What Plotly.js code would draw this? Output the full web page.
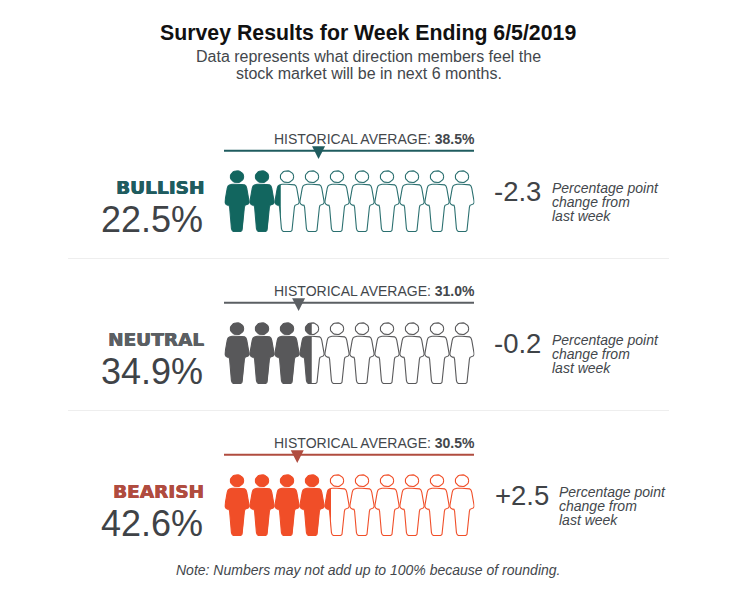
<!DOCTYPE html>
<html>
<head>
<meta charset="utf-8">
<script src="https://cdn.plot.ly/plotly-3.0.1.min.js"></script>
<style>html,body{margin:0;padding:0;background:#fff}</style>
</head>
<body>
<div id="chart" style="width:732px;height:593px"></div>
<script>
// values
const categories = ['BULLISH', 'NEUTRAL', 'BEARISH'];
const current = [22.5, 34.9, 42.6];
const historical = [38.5, 31.0, 30.5];
const changes = ['-2.3', '-0.2', '+2.5'];
const figures = [0, 10, 20, 30, 40, 50, 60, 70, 80, 90];

// styles per row
const labelColors = ['#1f5c5f', '#5b5f63', '#b04c3f'];
const figureColors = ['#12665f', '#58585a', '#f04e28'];
const outlineColors = ['#2a6f6f', '#58585a', '#f04e28'];
const changeTextX = [552, 552, 559];
const changeNumX = [541, 541, 549];

const W = 732, H = 593;
const PLOT_L = 224.5, PLOT_R = 474.5;
const ROW = 152;
const PX = 100 / (PLOT_R - PLOT_L); // percent per pixel

// marker axis, the triangles sit on a slightly different scale than the figures
const MARK_RANGE = [3.16, 97.1];
const MARK_PX = (MARK_RANGE[1] - MARK_RANGE[0]) / (PLOT_R - PLOT_L);

// half a figure, in pixels from its centre and the top of the torso
const halfBody = [[0,0],[5,0],[7.6,0.6],[9,1.8],[9.8,4],[12,16.5],[12.1,18.2],[11.4,19.6],[9.6,20.8],[8,21],
	[7.4,23],[5.6,44],[5,46],[3.8,47.2],[0,47.4]];

function bodyPoly() {
	let right = halfBody.slice();
	let left = halfBody.slice().reverse().map(p => [-p[0], p[1]]);
	return right.concat(left.slice(1, -1));
}

function headPoly() {
	let pts = [];
	for (let a = 0; a < 32; a++) {
		let t = a / 32 * 2 * Math.PI;
		pts.push([6.7 * Math.cos(t), -7.6 + 5.9 * Math.sin(t)]);
	}
	return pts;
}

// cuts a polygon at x=cut and keeps the left side
function clipLeft(poly, cut) {
	let out = [];
	for (let i = 0; i < poly.length; i++) {
		let a = poly[i], b = poly[(i + 1) % poly.length];
		if (a[0] <= cut) out.push(a);
		if ((a[0] <= cut) != (b[0] <= cut)) {
			let k = (cut - a[0]) / (b[0] - a[0]);
			out.push([cut, a[1] + k * (b[1] - a[1])]);
		}
	}
	return out;
}

function addPoly(xs, ys, poly, start, top) {
	if (poly.length < 3) return;
	poly.concat([poly[0]]).forEach(p => {
		xs.push(start + 5 + p[0] * PX);
		ys.push(top + p[1]);
	});
	xs.push(null);
	ys.push(null);
}

const traces = [];
const shapes = [];
const annotations = [];

function text(str, x, y, size, color, anchor, extra) {
	annotations.push(Object.assign({
		text: str, xref: 'paper', yref: 'y', x: x / W, y: y,
		xanchor: anchor, yanchor: 'middle', showarrow: false,
		font: {family: 'Liberation Sans, Arial, sans-serif', size: size, color: color},
		borderpad: 0, borderwidth: 0
	}, extra || {}));
}

categories.forEach((cat, r) => {
	let dy = r * ROW;
	let top = 184.3 + dy;

	// figures, outline for all and the filled part up to the current value
	let fx = [], fy = [], ox = [], oy = [];
	figures.forEach(start => {
		[bodyPoly(), headPoly()].forEach(poly => {
			addPoly(ox, oy, poly, start, top);
			let cut = (current[r] - (start + 5)) / PX;
			addPoly(fx, fy, clipLeft(poly, cut), start, top);
		});
	});
	traces.push({x: ox, y: oy, mode: 'lines', line: {color: outlineColors[r], width: 1.1}, xaxis: 'x', yaxis: 'y', hoverinfo: 'skip'});
	traces.push({x: fx, y: fy, mode: 'none', fill: 'toself', fillcolor: figureColors[r], xaxis: 'x', yaxis: 'y', hoverinfo: 'skip'});

	// historical average rule and triangle
	shapes.push({type: 'line', layer: 'below', xref: 'paper', yref: 'y', x0: 224 / W, x1: 474 / W, y0: 150.8 + dy, y1: 150.8 + dy,
		line: {color: labelColors[r], width: 2}});
	let h = historical[r];
	traces.push({
		x: [h - 6.5 * MARK_PX, h + 6.5 * MARK_PX, h, h - 6.5 * MARK_PX],
		y: [146.2 + dy, 146.2 + dy, 159 + dy, 146.2 + dy],
		mode: 'none', fill: 'toself', fillcolor: labelColors[r], xaxis: 'x2', yaxis: 'y', hoverinfo: 'skip'
	});

	text('HISTORICAL AVERAGE: <b>' + h.toFixed(1) + '%</b>', 474.5, 138.8 + dy, 14, '#43474c', 'right');
	text('<b>' + cat + '</b>', 203.5, 187.5 + dy, 18.5, labelColors[r], 'right', {font: {
		family: 'DejaVu Sans, sans-serif', size: 18.5, color: labelColors[r],
		shadow: '0.5px 0 0 ' + labelColors[r] + ', -0.3px 0 0 ' + labelColors[r]
	}});
	text(current[r].toFixed(1) + '%', 203, 219 + dy, 36, '#3f4347', 'right');
	text(changes[r], changeNumX[r], 191 + dy, 27.5, '#3f4347', 'right');
	['Percentage point', 'change from', 'last week'].forEach((line, i) => {
		text('<i>' + line + '</i>', changeTextX[r], 187.5 + dy + i * 14, 14, '#43474c', 'left');
	});
});

// separators between the rows
[258.5, 410.5].forEach(y => {
	shapes.push({type: 'line', layer: 'below', xref: 'paper', yref: 'y', x0: 68 / W, x1: 669 / W, y0: y, y1: y, line: {color: '#eeeeee', width: 1}});
});

text('<b>Survey Results for Week Ending 6/5/2019</b>', 368, 33, 21.3, '#111111', 'center');
text('Data represents what direction members feel the', 368.5, 56.3, 16, '#43474c', 'center');
text('stock market will be in next 6 months.', 368.5, 73.5, 16, '#43474c', 'center');
text('<i>Note: Numbers may not add up to 100% because of rounding.</i>', 368, 570, 14, '#43474c', 'center');

const layout = {
	width: W, height: H,
	margin: {l: 0, r: 0, t: 0, b: 0, pad: 0},
	paper_bgcolor: '#fff', plot_bgcolor: '#fff',
	showlegend: false, hovermode: false,
	xaxis: {domain: [PLOT_L / W, PLOT_R / W], range: [0, 100], visible: false, fixedrange: true},
	xaxis2: {domain: [PLOT_L / W, PLOT_R / W], range: MARK_RANGE, overlaying: 'x', visible: false, fixedrange: true},
	yaxis: {domain: [0, 1], range: [H, 0], visible: false, fixedrange: true},
	shapes: shapes,
	annotations: annotations
};

Plotly.newPlot('chart', traces, layout, {displayModeBar: false, staticPlot: true});
</script>
</body>
</html>
